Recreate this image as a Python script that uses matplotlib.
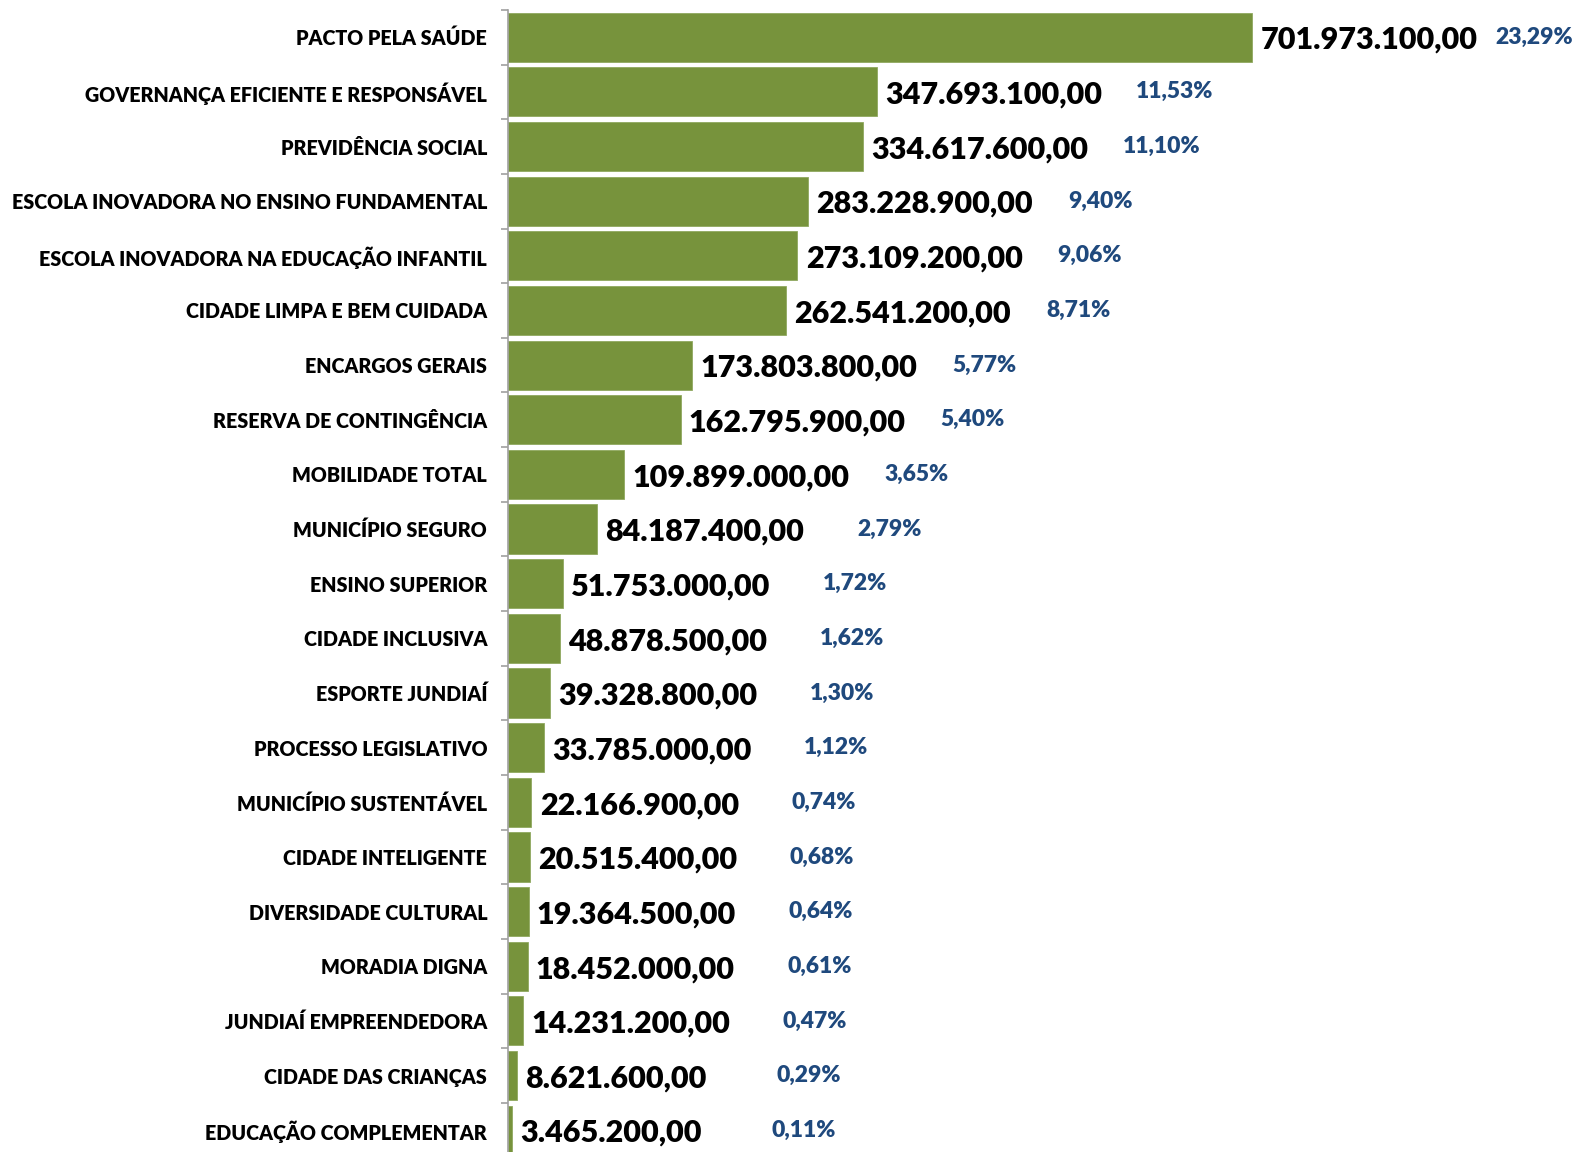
import matplotlib.pyplot as plt
from matplotlib.ticker import FixedLocator

plt.rcParams['font.family'] = ['Lato', 'DejaVu Sans']

# programas e valores (R$)
categories = [
    'PACTO PELA SAÚDE',
    'GOVERNANÇA EFICIENTE E RESPONSÁVEL',
    'PREVIDÊNCIA SOCIAL',
    'ESCOLA INOVADORA NO ENSINO FUNDAMENTAL',
    'ESCOLA INOVADORA NA EDUCAÇÃO INFANTIL',
    'CIDADE LIMPA E BEM CUIDADA',
    'ENCARGOS GERAIS',
    'RESERVA DE CONTINGÊNCIA',
    'MOBILIDADE TOTAL',
    'MUNICÍPIO SEGURO',
    'ENSINO SUPERIOR',
    'CIDADE INCLUSIVA',
    'ESPORTE JUNDIAÍ',
    'PROCESSO LEGISLATIVO',
    'MUNICÍPIO SUSTENTÁVEL',
    'CIDADE INTELIGENTE',
    'DIVERSIDADE CULTURAL',
    'MORADIA DIGNA',
    'JUNDIAÍ EMPREENDEDORA',
    'CIDADE DAS CRIANÇAS',
    'EDUCAÇÃO COMPLEMENTAR',
]
values = [701973100, 347693100, 334617600, 283228900, 273109200, 262541200,
          173803800, 162795900, 109899000, 84187400, 51753000, 48878500,
          39328800, 33785000, 22166900, 20515400, 19364500, 18452000,
          14231200, 8621600, 3465200]
percents = [23.29, 11.53, 11.10, 9.40, 9.06, 8.71, 5.77, 5.40, 3.65, 2.79,
            1.72, 1.62, 1.30, 1.12, 0.74, 0.68, 0.64, 0.61, 0.47, 0.29, 0.11]


def br(v, dec=2):
    s = f'{v:,.{dec}f}'
    return s.replace(',', 'X').replace('.', ',').replace('X', '.')


fig = plt.figure(figsize=(15.77, 11.52), dpi=100)
ax = fig.add_axes([508 / 1577, -0.0048, 1 - 508 / 1577, 0.9962])

y = list(range(len(categories)))
ax.barh(y, values, height=0.9, color='#77933C', edgecolor='#8fa860', linewidth=0.6)

ax.set_ylim(len(categories) - 0.5, -0.5)
ax.set_xlim(0, 1008.6e6)

for i, (v, p) in enumerate(zip(values, percents)):
    ax.annotate(br(v), (v, i), xytext=(6, -2), textcoords='offset points',
                ha='left', va='center', fontsize=22, fontweight='heavy', color='black')
    off = 175 if i == 0 else 187
    ax.annotate(br(p) + '%', (v, i), xytext=(off, 0), textcoords='offset points',
                ha='left', va='center', fontsize=16.5, fontweight='heavy', color='#1F497D')

ax.set_yticks(y)
ax.set_yticklabels(categories, fontsize=14.2, fontweight='heavy')
ax.yaxis.set_minor_locator(FixedLocator([i - 0.5 for i in range(len(categories) + 1)]))
ax.tick_params(axis='y', which='major', length=0, pad=15)
ax.tick_params(axis='y', which='minor', length=5, color='#A0A0A0', width=1.2)

ax.set_xticks([])
for side in ['top', 'right', 'bottom']:
    ax.spines[side].set_visible(False)
ax.spines['left'].set_color('#A0A0A0')
ax.spines['left'].set_linewidth(1.2)

fig.savefig('out.png', dpi=100)
